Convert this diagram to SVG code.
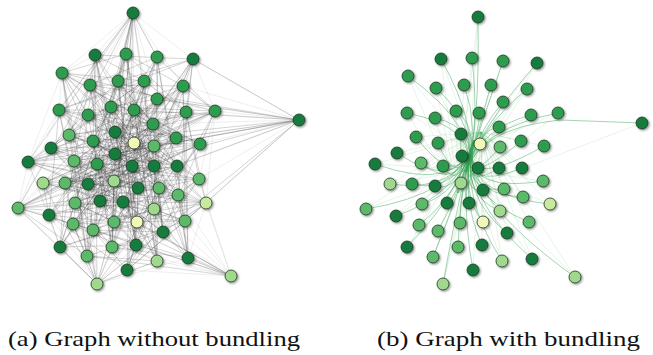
<svg xmlns="http://www.w3.org/2000/svg" width="653" height="355" viewBox="0 0 653 355">
<style>
.n circle{stroke:#1e3b23;stroke-width:0.8;r:6px}
.n{filter:url(#sh)}
.d circle{fill:#137b3d}
.m circle{fill:#2f9c50}
.lm circle{fill:#5cb96b}
.l circle{fill:#a0d88e}
.p circle{fill:#f0f7b8}
.pl circle{fill:#c8ea9c}
.hair{fill:none;stroke:#333;stroke-width:0.55;stroke-opacity:0.38}
.hair2{fill:none;stroke:#777;stroke-width:0.5;stroke-opacity:0.25}
.bund{fill:none;stroke:#36a055;stroke-width:0.9;stroke-opacity:0.5}
.haze{fill:none;stroke:#5cb86e;stroke-width:0.9;stroke-opacity:0.17}
.cap{font-family:'Liberation Serif','DejaVu Serif',serif;font-size:21px;fill:#111}
</style>
<defs>
<filter id="sh" x="-60%" y="-60%" width="220%" height="220%">
<feDropShadow dx="1.2" dy="1.2" stdDeviation="0.8" flood-color="#000" flood-opacity="0.45"/>
</filter>
</defs>
<rect width="653" height="355" fill="#fff"/>
<g id="connectors">
<path class="hair" d="M90 85 L111 107 L93 141 L28 162 L199 179 L178 195 L49 215 L60 247 L97 284 L62 73 L88 115 L69 135 L51 148 L177 166 L159 188 L154 209 L185 221 L127 270 L193 59 L59 110 L153 124 L200 144 L154 166 L138 188 L123 202 L163 232 L188 258 L157 57 L157 99 L299 120 L176 138 L132 166 L114 181 L100 201 L137 222 L157 261 L126 54 L183 86 L215 111 L154 146 L115 154 L88 184 L75 203 L114 222 L136 245 L95 55 L144 81 L186 112 L134 143 L97 164 L65 183 L18 208 L93 230 L112 247 L133 13 L118 81 L134 110 L115 132 L74 161 L43 183 L206 203 L73 224 L87 256 L231 276"/>
<path class="hair" d="M88 115 L200 144 L114 181 L114 222 L133 13 L111 107 L51 148 L138 188 L137 222 L95 55 L134 110 L28 162 L159 188 L163 232 L126 54 L186 112 L74 161 L178 195 L185 221 L157 57 L215 111 L97 164 L206 203 L60 247 L193 59 L299 120 L115 154 L18 208 L87 256 L62 73 L153 124 L132 166 L75 203 L112 247 L90 85 L69 135 L154 166 L100 201 L136 245 L118 81 L93 141 L177 166 L123 202 L157 261 L144 81 L115 132 L199 179 L154 209 L188 258 L183 86 L134 143 L43 183 L49 215 L127 270 L157 99 L154 146 L65 183 L73 224 L97 284 L59 110 L176 138 L88 184 L93 230 L231 276"/>
<path class="hair" d="M51 148 L163 232 L215 111 L18 208 L90 85 L177 166 L188 258 L154 146 L93 230 L111 107 L159 188 L157 57 L115 154 L112 247 L93 141 L154 209 L157 99 L88 184 L133 13 L28 162 L185 221 L299 120 L75 203 L118 81 L199 179 L127 270 L176 138 L114 222 L134 110 L178 195 L193 59 L132 166 L136 245 L115 132 L49 215 L59 110 L114 181 L95 55 L74 161 L60 247 L153 124 L100 201 L144 81 L43 183 L97 284 L200 144 L137 222 L186 112 L206 203 L62 73 L154 166 L157 261 L134 143 L73 224 L88 115 L138 188 L126 54 L97 164 L87 256 L69 135 L123 202 L183 86 L65 183 L231 276"/>
<path class="hair" d="M153 124 L88 184 L87 256 L59 110 L115 154 L73 224 L193 59 L154 146 L206 203 L127 270 L215 111 L43 183 L185 221 L183 86 L74 161 L154 209 L126 54 L115 132 L159 188 L157 261 L134 110 L177 166 L137 222 L118 81 L51 148 L100 201 L133 13 L69 135 L114 181 L112 247 L88 115 L132 166 L93 230 L62 73 L176 138 L18 208 L97 284 L299 120 L65 183 L60 247 L157 99 L97 164 L49 215 L157 57 L134 143 L178 195 L188 258 L186 112 L199 179 L163 232 L144 81 L28 162 L123 202 L95 55 L93 141 L138 188 L136 245 L111 107 L154 166 L114 222 L90 85 L200 144 L75 203 L231 276"/>
<path class="hair" d="M126 54 L62 73 L144 81 L59 110 L134 110 L299 120 L93 141 L154 146 L51 148 L97 164 L154 166 L43 183 L114 181 L178 195 L75 203 L154 209 L93 230 L163 232 L87 256 L157 261 L97 284 L95 55 L193 59 L118 81 L157 99 L111 107 L215 111 L69 135 L134 143 L200 144 L74 161 L132 166 L199 179 L88 184 L159 188 L18 208 L123 202 L73 224 L137 222 L60 247 L136 245 L127 270 L133 13 L157 57 L90 85 L183 86 L88 115 L186 112 L153 124 L115 132 L176 138 L28 162 L115 154 L177 166 L65 183 L138 188 L206 203 L100 201 L49 215 L114 222 L185 221 L112 247 L188 258 L231 276"/>
<path class="hair" d="M157 99 L115 132 L154 166 L18 208 L185 221 L95 55 L88 115 L154 146 L199 179 L100 201 L87 256 L157 57 L134 110 L200 144 L65 183 L154 209 L136 245 L62 73 L215 111 L28 162 L114 181 L73 224 L188 258 L118 81 L153 124 L97 164 L159 188 L114 222 L97 284 L183 86 L93 141 L132 166 L206 203 L163 232 L133 13 L59 110 L134 143 L177 166 L75 203 L60 247 L126 54 L111 107 L176 138 L43 183 L123 202 L112 247 L193 59 L186 112 L51 148 L88 184 L49 215 L157 261 L90 85 L299 120 L74 161 L138 188 L93 230 L127 270 L144 81 L69 135 L115 154 L178 195 L137 222 L231 276"/>
<path class="hair" d="M134 143 L88 115 L154 166 L69 135 L153 124 L97 164 L134 110 L115 154 L159 188 L93 141 L132 166 L114 181 L154 146 L100 201 L176 138 L88 184 L138 188 L115 132 L123 202 L74 161 L137 222 L97 164 L114 222 L154 209 L111 107 L178 195 L93 230 L144 81 L132 166 L157 99 L65 183 L177 166 L118 81 L136 245 L134 143 L90 85 L163 232 L153 124 L75 203 L186 112 L114 181 L112 247 L157 99"/>
<path class="hair2" d="M133 13L95 55M133 13L126 54M133 13L157 57M133 13L193 59M133 13L62 73M133 13L90 85M133 13L118 81M133 13L144 81M133 13L183 86M133 13L59 110M133 13L111 107M133 13L157 99M133 13L134 110M133 13L88 115
M231 276L185 221M231 276L157 261M231 276L188 258M231 276L163 232M231 276L112 247M231 276L136 245M231 276L127 270M231 276L154 209M231 276L206 203M231 276L178 195M231 276L199 179M231 276L137 222M231 276L93 230
M299 120L193 59M299 120L183 86M299 120L186 112M299 120L215 111M299 120L200 144M299 120L176 138M299 120L154 146M299 120L157 99M299 120L199 179M299 120L177 166M299 120L153 124M299 120L206 203
M18 208L28 162M18 208L51 148M18 208L43 183M18 208L65 183M18 208L75 203M18 208L49 215M18 208L73 224M18 208L60 247M18 208L74 161M18 208L59 110M18 208L88 184M18 208L93 230
M97 284L60 247M97 284L87 256M97 284L112 247M97 284L127 270M97 284L136 245M97 284L93 230M97 284L73 224M97 284L157 261M97 284L188 258M97 284L163 232M97 284L49 215M97 284L114 222
M28 162L59 110M28 162L62 73M28 162L88 115M28 162L69 135M28 162L93 141M28 162L49 215M28 162L60 247
M62 73L95 55M62 73L90 85M62 73L59 110M62 73L118 81M62 73L111 107M62 73L88 115M62 73L69 135
M215 111L193 59M215 111L183 86M215 111L157 99M215 111L200 144M215 111L199 179M215 111L176 138M215 111L206 203
M206 203L199 179M206 203L185 221M206 203L188 258M206 203L163 232M206 203L177 166M206 203L154 209"/>
<path class="haze" d="M478 17L458 193M441 59L458 193M472 58L458 193M503 61L458 193M537 63L458 193M408 76L458 193M436 88L458 193M464 85L458 193M491 85L458 193M527 89L458 193M503 102L458 193M407 113L458 193M435 118L458 193M456 111L458 193M479 113L458 193M531 115L458 193M558 113L458 193M642 123L458 193M499 127L458 193
M416 137L481 132M438 143L481 132M461 134L481 132M500 147L481 132M521 141L481 132M544 146L481 132M397 153L481 132M462 156L481 132M375 164L481 132M421 163L481 132M443 166L481 132M478 168L481 132M499 168L481 132M522 168L481 132M390 184L481 132M412 184L481 132M435 186L481 132M461 183L481 132M483 190L481 132M504 189L481 132M523 197L481 132M543 181L481 132M366 209L481 132M422 204L481 132M447 203L481 132M469 203L481 132M500 211L481 132M550 204L481 132M396 216L481 132M419 225L481 132M438 231L481 132M460 223L481 132M483 222L481 132M507 233L481 132M529 222L481 132M407 247L481 132M458 247L481 132M482 245L481 132M433 257L481 132M502 261L481 132M532 259L481 132M473 270L481 132M443 284L481 132M575 277L481 132
M478 17L470 150M441 59L475 150M537 63L470 150M408 76L470 150M407 113L470 150M531 115L470 150M558 113L470 150M436 88L470 150M527 89L470 150
M366 209L468 170M375 164L468 170M390 184L468 170M407 247L468 170M443 284L468 170M575 277L468 170M532 259L468 170M550 204L468 170M543 181L468 170M396 216L468 170M433 257L468 170M502 261L468 170"/>
<path class="bund" d="M478 17Q480 128 466 172M441 59Q480 128 466 172M472 58Q480 128 466 172M503 61Q480 128 466 172M537 63Q480 128 466 172M408 76Q480 128 466 172M436 88Q480 128 466 172M464 85Q480 128 466 172M491 85Q480 128 466 172M527 89Q480 128 466 172M503 102Q480 128 466 172M407 113Q480 128 466 172M435 118Q480 128 466 172M456 111Q480 128 466 172M479 113Q480 128 466 172M531 115Q480 128 466 172M558 113Q480 128 466 172M642 123L560 120Q480 128 466 172M499 127Q480 128 466 172
M416 137Q459 194 474 140M438 143Q459 194 474 140M461 134Q459 194 474 140M500 147Q459 194 474 140M521 141Q459 194 474 140M544 146Q459 194 474 140M397 153Q459 194 474 140M462 156Q459 194 474 140M375 164Q459 194 474 140M421 163Q459 194 474 140M443 166Q459 194 474 140M478 168Q459 194 474 140M499 168Q459 194 474 140M522 168Q459 194 474 140M390 184Q459 194 474 140M412 184Q459 194 474 140M435 186Q459 194 474 140M461 183Q459 194 474 140M483 190Q459 194 474 140M504 189Q459 194 474 140M523 197Q459 194 474 140M543 181Q459 194 474 140M366 209Q459 194 474 140M422 204Q459 194 474 140M447 203Q459 194 474 140M469 203Q459 194 474 140M500 211Q459 194 474 140M550 204Q459 194 474 140M396 216Q459 194 474 140M419 225Q459 194 474 140M438 231Q459 194 474 140M460 223Q459 194 474 140M483 222Q459 194 474 140M507 233Q459 194 474 140M529 222Q459 194 474 140M407 247Q459 194 474 140M458 247Q459 194 474 140M482 245Q459 194 474 140M433 257Q459 194 474 140M502 261Q459 194 474 140M532 259Q459 194 474 140M473 270Q459 194 474 140M443 284Q459 194 474 140M575 277Q459 194 474 140"/>
</g>
<g id="graph-a">
<g id="a1" class="n d"><circle cx="133" cy="13"/></g>
<g id="a2" class="n d"><circle cx="95" cy="55"/></g>
<g id="a3" class="n m"><circle cx="126" cy="54"/></g>
<g id="a4" class="n m"><circle cx="157" cy="57"/></g>
<g id="a5" class="n d"><circle cx="193" cy="59"/></g>
<g id="a6" class="n m"><circle cx="62" cy="73"/></g>
<g id="a7" class="n m"><circle cx="90" cy="85"/></g>
<g id="a8" class="n m"><circle cx="118" cy="81"/></g>
<g id="a9" class="n m"><circle cx="144" cy="81"/></g>
<g id="a10" class="n m"><circle cx="183" cy="86"/></g>
<g id="a11" class="n m"><circle cx="157" cy="99"/></g>
<g id="a12" class="n m"><circle cx="59" cy="110"/></g>
<g id="a13" class="n m"><circle cx="88" cy="115"/></g>
<g id="a14" class="n m"><circle cx="111" cy="107"/></g>
<g id="a15" class="n m"><circle cx="134" cy="110"/></g>
<g id="a16" class="n m"><circle cx="186" cy="112"/></g>
<g id="a17" class="n m"><circle cx="215" cy="111"/></g>
<g id="a18" class="n d"><circle cx="299" cy="120"/></g>
<g id="a19" class="n m"><circle cx="153" cy="124"/></g>
<g id="a20" class="n lm"><circle cx="69" cy="135"/></g>
<g id="a21" class="n m"><circle cx="93" cy="141"/></g>
<g id="a22" class="n d"><circle cx="115" cy="132"/></g>
<g id="a23" class="n p"><circle cx="134" cy="143"/></g>
<g id="a24" class="n lm"><circle cx="154" cy="146"/></g>
<g id="a25" class="n m"><circle cx="176" cy="138"/></g>
<g id="a26" class="n m"><circle cx="200" cy="144"/></g>
<g id="a27" class="n d"><circle cx="51" cy="148"/></g>
<g id="a28" class="n d"><circle cx="28" cy="162"/></g>
<g id="a29" class="n lm"><circle cx="74" cy="161"/></g>
<g id="a30" class="n m"><circle cx="97" cy="164"/></g>
<g id="a31" class="n d"><circle cx="115" cy="154"/></g>
<g id="a32" class="n d"><circle cx="132" cy="166"/></g>
<g id="a33" class="n d"><circle cx="154" cy="166"/></g>
<g id="a34" class="n d"><circle cx="177" cy="166"/></g>
<g id="a35" class="n lm"><circle cx="199" cy="179"/></g>
<g id="a36" class="n l"><circle cx="43" cy="183"/></g>
<g id="a37" class="n lm"><circle cx="65" cy="183"/></g>
<g id="a38" class="n d"><circle cx="88" cy="184"/></g>
<g id="a39" class="n l"><circle cx="114" cy="181"/></g>
<g id="a40" class="n d"><circle cx="138" cy="188"/></g>
<g id="a41" class="n lm"><circle cx="159" cy="188"/></g>
<g id="a42" class="n lm"><circle cx="178" cy="195"/></g>
<g id="a43" class="n pl"><circle cx="206" cy="203"/></g>
<g id="a44" class="n lm"><circle cx="18" cy="208"/></g>
<g id="a45" class="n lm"><circle cx="75" cy="203"/></g>
<g id="a46" class="n d"><circle cx="100" cy="201"/></g>
<g id="a47" class="n d"><circle cx="123" cy="202"/></g>
<g id="a48" class="n l"><circle cx="154" cy="209"/></g>
<g id="a49" class="n d"><circle cx="49" cy="215"/></g>
<g id="a50" class="n lm"><circle cx="73" cy="224"/></g>
<g id="a51" class="n lm"><circle cx="93" cy="230"/></g>
<g id="a52" class="n lm"><circle cx="114" cy="222"/></g>
<g id="a53" class="n p"><circle cx="137" cy="222"/></g>
<g id="a54" class="n d"><circle cx="163" cy="232"/></g>
<g id="a55" class="n lm"><circle cx="185" cy="221"/></g>
<g id="a56" class="n d"><circle cx="60" cy="247"/></g>
<g id="a57" class="n lm"><circle cx="87" cy="256"/></g>
<g id="a58" class="n lm"><circle cx="112" cy="247"/></g>
<g id="a59" class="n d"><circle cx="136" cy="245"/></g>
<g id="a60" class="n l"><circle cx="157" cy="261"/></g>
<g id="a61" class="n d"><circle cx="188" cy="258"/></g>
<g id="a62" class="n d"><circle cx="127" cy="270"/></g>
<g id="a63" class="n l"><circle cx="97" cy="284"/></g>
<g id="a64" class="n l"><circle cx="231" cy="276"/></g>
</g>
<g id="graph-b">
<g id="b1" class="n d"><circle cx="478" cy="17"/></g>
<g id="b2" class="n d"><circle cx="441" cy="59"/></g>
<g id="b3" class="n m"><circle cx="472" cy="58"/></g>
<g id="b4" class="n m"><circle cx="503" cy="61"/></g>
<g id="b5" class="n d"><circle cx="537" cy="63"/></g>
<g id="b6" class="n m"><circle cx="408" cy="76"/></g>
<g id="b7" class="n m"><circle cx="436" cy="88"/></g>
<g id="b8" class="n m"><circle cx="464" cy="85"/></g>
<g id="b9" class="n m"><circle cx="491" cy="85"/></g>
<g id="b10" class="n m"><circle cx="527" cy="89"/></g>
<g id="b11" class="n m"><circle cx="503" cy="102"/></g>
<g id="b12" class="n m"><circle cx="407" cy="113"/></g>
<g id="b13" class="n m"><circle cx="435" cy="118"/></g>
<g id="b14" class="n m"><circle cx="456" cy="111"/></g>
<g id="b15" class="n m"><circle cx="479" cy="113"/></g>
<g id="b16" class="n m"><circle cx="531" cy="115"/></g>
<g id="b17" class="n m"><circle cx="558" cy="113"/></g>
<g id="b18" class="n d"><circle cx="642" cy="123"/></g>
<g id="b19" class="n m"><circle cx="499" cy="127"/></g>
<g id="b20" class="n m"><circle cx="416" cy="137"/></g>
<g id="b21" class="n m"><circle cx="438" cy="143"/></g>
<g id="b22" class="n d"><circle cx="461" cy="134"/></g>
<g id="b23" class="n p"><circle cx="480" cy="144"/></g>
<g id="b24" class="n lm"><circle cx="500" cy="147"/></g>
<g id="b25" class="n m"><circle cx="521" cy="141"/></g>
<g id="b26" class="n m"><circle cx="544" cy="146"/></g>
<g id="b27" class="n d"><circle cx="397" cy="153"/></g>
<g id="b28" class="n d"><circle cx="462" cy="156"/></g>
<g id="b29" class="n d"><circle cx="375" cy="164"/></g>
<g id="b30" class="n lm"><circle cx="421" cy="163"/></g>
<g id="b31" class="n m"><circle cx="443" cy="166"/></g>
<g id="b32" class="n d"><circle cx="478" cy="168"/></g>
<g id="b33" class="n d"><circle cx="499" cy="168"/></g>
<g id="b34" class="n d"><circle cx="522" cy="168"/></g>
<g id="b35" class="n l"><circle cx="390" cy="184"/></g>
<g id="b36" class="n m"><circle cx="412" cy="184"/></g>
<g id="b37" class="n d"><circle cx="435" cy="186"/></g>
<g id="b38" class="n l"><circle cx="461" cy="183"/></g>
<g id="b39" class="n d"><circle cx="483" cy="190"/></g>
<g id="b40" class="n lm"><circle cx="504" cy="189"/></g>
<g id="b41" class="n lm"><circle cx="523" cy="197"/></g>
<g id="b42" class="n lm"><circle cx="543" cy="181"/></g>
<g id="b43" class="n lm"><circle cx="366" cy="209"/></g>
<g id="b44" class="n lm"><circle cx="422" cy="204"/></g>
<g id="b45" class="n d"><circle cx="447" cy="203"/></g>
<g id="b46" class="n d"><circle cx="469" cy="203"/></g>
<g id="b47" class="n l"><circle cx="500" cy="211"/></g>
<g id="b48" class="n pl"><circle cx="550" cy="204"/></g>
<g id="b49" class="n d"><circle cx="396" cy="216"/></g>
<g id="b50" class="n lm"><circle cx="419" cy="225"/></g>
<g id="b51" class="n lm"><circle cx="438" cy="231"/></g>
<g id="b52" class="n lm"><circle cx="460" cy="223"/></g>
<g id="b53" class="n p"><circle cx="483" cy="222"/></g>
<g id="b54" class="n d"><circle cx="507" cy="233"/></g>
<g id="b55" class="n lm"><circle cx="529" cy="222"/></g>
<g id="b56" class="n d"><circle cx="407" cy="247"/></g>
<g id="b57" class="n lm"><circle cx="458" cy="247"/></g>
<g id="b58" class="n d"><circle cx="482" cy="245"/></g>
<g id="b59" class="n lm"><circle cx="433" cy="257"/></g>
<g id="b60" class="n l"><circle cx="502" cy="261"/></g>
<g id="b61" class="n d"><circle cx="532" cy="259"/></g>
<g id="b62" class="n d"><circle cx="473" cy="270"/></g>
<g id="b63" class="n l"><circle cx="443" cy="284"/></g>
<g id="b64" class="n l"><circle cx="575" cy="277"/></g>
</g>
<text class="cap" x="8" y="346" textLength="292" lengthAdjust="spacingAndGlyphs">(a) Graph without bundling</text>
<text class="cap" x="377" y="346" textLength="263" lengthAdjust="spacingAndGlyphs">(b) Graph with bundling</text>
</svg>
